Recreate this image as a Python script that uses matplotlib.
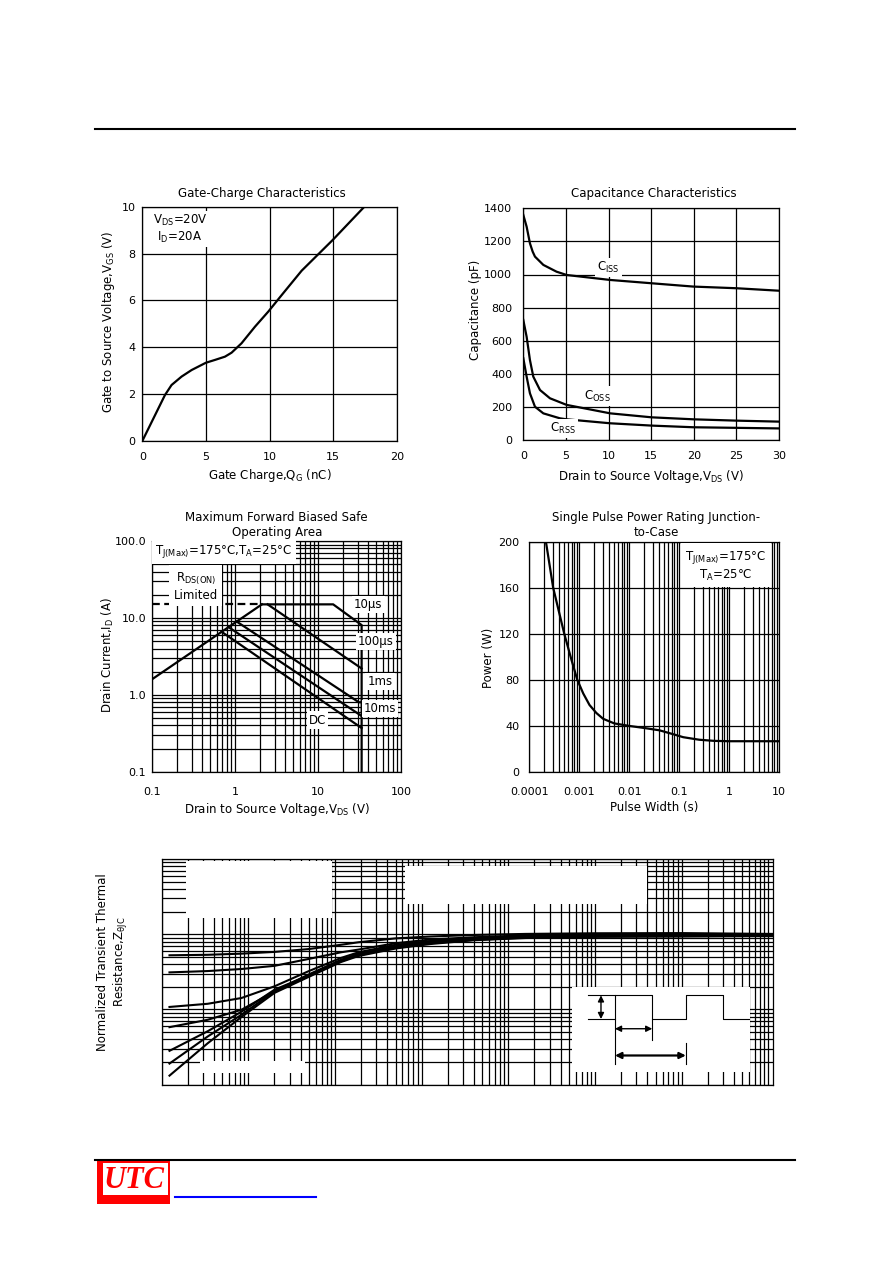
import numpy as np
import matplotlib
matplotlib.use('Agg')
import matplotlib.pyplot as plt
from matplotlib.patches import Rectangle
from matplotlib.lines import Line2D
from matplotlib.ticker import LogLocator, NullFormatter

plt.rcParams['font.family'] = ['DejaVu Sans']
plt.rcParams['mathtext.fontset'] = 'dejavusans'
plt.rcParams['mathtext.default'] = 'regular'

W, H = 892, 1263

# ---------------- data ----------------
# Gate charge
qg = [0, 1.78, 2.3, 3.09, 3.88, 5.0, 5.71, 6.5, 7.02, 7.8, 8.86, 9.9, 10.96, 12.53, 14.97, 17.46]
vgs = [0, 1.96, 2.39, 2.75, 3.03, 3.34, 3.46, 3.6, 3.77, 4.17, 4.88, 5.52, 6.23, 7.27, 8.58, 10.0]

# Capacitance
vds_ciss = [0, 0.39, 0.78, 1.1, 1.37, 2.35, 3.9, 5.09, 10.2, 15.06, 19.95, 25.0, 30]
ciss = [1360, 1289, 1188, 1138, 1108, 1058, 1017, 997, 967, 947, 927, 917, 902]
vds_coss = [0, 0.39, 0.78, 1.17, 1.96, 3.13, 5.09, 10.2, 15.06, 19.95, 25.0, 30]
coss = [725, 624, 483, 383, 302, 252, 212, 161, 137, 125, 117, 111]
vds_crss = [0, 0.39, 0.78, 1.37, 2.35, 4.3, 5.09, 10.2, 15.06, 19.95, 30]
crss = [494, 383, 282, 201, 161, 131, 125, 101, 87, 77, 70]

# Safe operating area
rds_v = [0.1, 2.1]
rds_i = [1.6, 15.0]
lim_v = [0.1, 2.1]
lim_i = [15.0, 15.0]
us10_v = [2.1, 15.2, 33.5, 33.5]
us10_i = [15.0, 15.0, 8.07, 0.1]
us100_v = [2.46, 33.5]
us100_i = [15.0, 2.2]
ms1_v = [1.04, 31.0, 33.5]
ms1_i = [8.97, 0.8, 0.8]
ms10_v = [0.83, 33.5]
ms10_i = [7.6, 0.53]
dc_v = [0.685, 33.5]
dc_i = [6.6, 0.37]

# Single pulse power
pw_t = [2.15e-4, 3.0e-4, 5.0e-4, 7.0e-4, 9.1e-4, 1.2e-3, 1.6e-3, 2.2e-3, 3.0e-3, 5.0e-3,
        1.0e-2, 2.0e-2, 4.0e-2, 7.0e-2, 0.12, 0.25, 0.5, 1.0, 10.0]
pw_p = [200, 160, 120, 97, 80, 68, 58, 51, 46, 42, 39.8, 38, 36, 33, 30, 27.8, 26.8, 26.5, 26.5]

# Transient thermal impedance (normalized)
zt = [1.23e-5, 3.39e-5, 8.32e-5, 2.0e-4, 4.9e-4, 1.17e-3, 1.86e-3, 5.0e-3, 1.26e-2, 3.98e-2,
      0.158, 1.0, 10.0, 112.0]
z_d50 = [0.525, 0.533, 0.552, 0.582, 0.634, 0.724, 0.782, 0.881, 0.933, 0.977, 1.01, 1.03, 1.035, 1.01]
z_d20 = [0.311, 0.324, 0.345, 0.380, 0.468, 0.575, 0.625, 0.759, 0.851, 0.912, 0.966, 1.0, 1.01, 1.0]
z_d10 = [0.108, 0.119, 0.142, 0.203, 0.321, 0.484, 0.575, 0.724, 0.813, 0.891, 0.933, 0.966, 0.977, 0.985]
z_d05 = [0.0582, 0.0729, 0.0991, 0.174, 0.290, 0.457, 0.55, 0.692, 0.794, 0.871, 0.923, 0.955, 0.966, 0.977]
z_d02 = [0.0282, 0.0513, 0.0933, 0.183, 0.282, 0.447, 0.537, 0.676, 0.776, 0.851, 0.912, 0.944, 0.955, 0.966]
z_d01 = [0.0191, 0.0437, 0.0851, 0.174, 0.275, 0.437, 0.525, 0.661, 0.759, 0.841, 0.902, 0.933, 0.944, 0.955]
z_single = [0.0132, 0.0355, 0.0794, 0.166, 0.269, 0.427, 0.513, 0.646, 0.741, 0.832, 0.891, 0.923, 0.933, 0.944]

# Pulse diagram (schematic units: t1 = 1)
pulse_t = [-0.72, 0, 0, 1, 1, 1.9, 1.9, 2.9, 2.9, 3.62]
pulse_v = [0, 0, 1, 1, 0, 0, 1, 1, 0, 0]

# ---------------- figure ----------------
fig = plt.figure(figsize=(W / 100, H / 100), dpi=100)
fig.patch.set_facecolor('white')

FS = 8.5
TFS = 8.0


def px_axes(l, t, r, b, **kw):
    return fig.add_axes([l / W, 1 - b / H, (r - l) / W, (b - t) / H], **kw)


def ftext(x, y, s, **kw):
    kw.setdefault('ha', 'center')
    kw.setdefault('va', 'center')
    kw.setdefault('fontsize', FS)
    return fig.text(x / W, 1 - y / H, s, **kw)


def style(ax, xpad, ypad):
    for s in ax.spines.values():
        s.set_linewidth(0.9)
        s.set_color('black')
    ax.tick_params(which='both', length=0, labelsize=TFS, colors='black')
    ax.tick_params(axis='x', pad=xpad)
    ax.tick_params(axis='y', pad=ypad)
    ax.set_axisbelow(True)


BOX = dict(fc='white', ec='none', pad=1.5)
LW = 1.6
GRID = dict(color='black', lw=0.9)

# header line
fig.add_artist(Line2D([95 / W, 795 / W], [1 - 128.5 / H] * 2, color='black', lw=1.5))

# ---- Chart 1: Gate charge ----
ax1 = px_axes(142.3, 206.7, 396.7, 441)
style(ax1, 8.0, 5.0)
ax1.plot(qg, vgs, color='black', lw=LW, solid_joinstyle='round')
ax1.set_xlim(0, 20)
ax1.set_ylim(0, 10)
ax1.set_xticks([0, 5, 10, 15, 20])
ax1.set_yticks([0, 2, 4, 6, 8, 10])
ax1.grid(True, **GRID)
ax1.text(2.96, 9.05, 'V$_{DS}$=20V\nI$_{D}$=20A', ha='center', va='center', fontsize=FS,
         linespacing=1.15, bbox=BOX)
ftext(262, 194, 'Gate-Charge Characteristics')
ftext(269.5, 475, 'Gate Charge,Q$_{G}$ (nC)')
ftext(108.3, 322, 'Gate to Source Voltage,V$_{GS}$ (V)', rotation=90)

# ---- Chart 2: Capacitance ----
ax2 = px_axes(523.3, 208.3, 779, 440)
style(ax2, 8.0, 8.0)
ax2.plot(vds_ciss, ciss, color='black', lw=LW, solid_joinstyle='round')
ax2.plot(vds_coss, coss, color='black', lw=LW, solid_joinstyle='round')
ax2.plot(vds_crss, crss, color='black', lw=LW, solid_joinstyle='round')
ax2.set_xlim(0, 30)
ax2.set_ylim(0, 1400)
ax2.set_xticks([0, 5, 10, 15, 20, 25, 30])
ax2.set_yticks(range(0, 1401, 200))
ax2.grid(True, **GRID)
ax2.text(9.97, 1043, 'C$_{ISS}$', ha='center', va='center', fontsize=FS, bbox=BOX)
ax2.text(8.72, 266, 'C$_{OSS}$', ha='center', va='center', fontsize=FS, bbox=BOX)
ax2.text(4.62, 70.5, 'C$_{RSS}$', ha='center', va='center', fontsize=FS, bbox=BOX)
ftext(654, 194, 'Capacitance Characteristics')
ftext(651, 476.5, 'Drain to Source Voltage,V$_{DS}$ (V)')
ftext(475, 310, 'Capacitance (pF)', rotation=90)

# ---- Chart 3: SOA ----
ax3 = px_axes(152.3, 541, 401, 771.7)
style(ax3, 11, 4.5)
ax3.set_xscale('log')
ax3.set_yscale('log')
ax3.set_xlim(0.1, 100)
ax3.set_ylim(0.1, 100)
ax3.set_xticks([0.1, 1, 10, 100], ['0.1', '1', '10', '100'])
ax3.set_yticks([0.1, 1, 10, 100], ['0.1', '1.0', '10.0', '100.0'])
for axis in (ax3.xaxis, ax3.yaxis):
    axis.set_minor_locator(LogLocator(base=10, subs=np.arange(2, 10), numticks=50))
    axis.set_minor_formatter(NullFormatter())
ax3.grid(True, which='both', **GRID)
ax3.plot(rds_v, rds_i, color='black', lw=LW)
ax3.plot(lim_v, lim_i, color='black', lw=LW, ls=(0, (3.5, 2)))
ax3.plot(us10_v, us10_i, color='black', lw=LW)
ax3.plot(us100_v, us100_i, color='black', lw=LW)
ax3.plot(ms1_v, ms1_i, color='black', lw=LW)
ax3.plot(ms10_v, ms10_i, color='black', lw=LW)
ax3.plot(dc_v, dc_i, color='black', lw=LW)
ax3.text(0.108, 72.6, 'T$_{J(Max)}$=175°C,T$_{A}$=25°C', ha='left', va='center', fontsize=FS,
         bbox=dict(fc='white', ec='none', pad=2.5))
ax3.text(0.334, 25.5, 'R$_{DS(ON)}$\nLimited', ha='center', va='center', fontsize=FS,
         linespacing=1.2, bbox=dict(fc='white', ec='none', pad=3))
ax3.text(40.4, 15.0, '10µs', ha='center', va='center', fontsize=FS, bbox=BOX)
ax3.text(49.4, 4.9, '100µs', ha='center', va='center', fontsize=FS, bbox=BOX)
ax3.text(55.7, 1.48, '1ms', ha='center', va='center', fontsize=FS, bbox=BOX)
ax3.text(55.7, 0.667, '10ms', ha='center', va='center', fontsize=FS, bbox=BOX)
ax3.text(9.86, 0.47, 'DC', ha='center', va='center', fontsize=FS, bbox=BOX)
ftext(276.7, 525, 'Maximum Forward Biased Safe\nOperating Area', linespacing=1.2)
ftext(276.7, 809, 'Drain to Source Voltage,V$_{DS}$ (V)')
ftext(107.7, 655, 'Drain Current,I$_{D}$ (A)', rotation=90)

# ---- Chart 4: Single pulse power ----
ax4 = px_axes(529.3, 541.7, 779.3, 771.7)
style(ax4, 11, 7.0)
ax4.set_xscale('log')
ax4.set_xlim(1e-4, 10)
ax4.set_ylim(0, 200)
ax4.set_xticks([1e-4, 1e-3, 1e-2, 0.1, 1, 10], ['0.0001', '0.001', '0.01', '0.1', '1', '10'])
ax4.xaxis.set_minor_locator(LogLocator(base=10, subs=np.arange(2, 10), numticks=50))
ax4.xaxis.set_minor_formatter(NullFormatter())
ax4.set_yticks(range(0, 201, 40))
ax4.grid(True, which='both', axis='x', **GRID)
ax4.grid(True, which='major', axis='y', **GRID)
ax4.plot(pw_t, pw_p, color='black', lw=LW, solid_joinstyle='round')
ax4.text(0.857, 179, 'T$_{J(Max)}$=175°C\nT$_{A}$=25°C', ha='center', va='center', fontsize=FS,
         linespacing=1.2, bbox=dict(fc='white', ec='none', pad=3))
ftext(656, 525, 'Single Pulse Power Rating Junction-\nto-Case', linespacing=1.2)
ftext(654, 808, 'Pulse Width (s)')
ftext(488.3, 658, 'Power (W)', rotation=90)

# ---- Chart 5: Transient thermal impedance ----
ax5 = px_axes(161.7, 859, 773, 1084.7)
style(ax5, 4, 4)
ax5.set_xscale('log')
ax5.set_yscale('log')
ax5.set_xlim(1e-5, 10 ** 2.053)
ax5.set_ylim(0.01, 10)
for axis in (ax5.xaxis, ax5.yaxis):
    axis.set_major_locator(LogLocator(base=10, numticks=30))
    axis.set_minor_locator(LogLocator(base=10, subs=np.arange(2, 10), numticks=200))
    axis.set_minor_formatter(NullFormatter())
ax5.tick_params(labelbottom=False, labelleft=False)
ax5.grid(True, which='both', **GRID)
for (fx0, fy0, fx1, fy1) in [(0.0397, 0.7386, 0.2786, 0.9911),
                             (0.3980, 0.8006, 0.7934, 0.9703),
                             (0.0622, 0.0532, 0.2339, 0.1063)]:
    ax5.add_patch(Rectangle((fx0, fy0), fx1 - fx0, fy1 - fy0, transform=ax5.transAxes,
                            fc='white', ec='none', zorder=1))
for z in (z_d50, z_d20, z_d10, z_d05, z_d02, z_d01, z_single):
    ax5.plot(zt, z, color='black', lw=1.5, solid_joinstyle='round', zorder=2)
ftext(113.4, 961.7, 'Normalized Transient Thermal\nResistance,Z$_{\\theta JC}$', rotation=90, linespacing=1.25)

# pulse diagram inset
axp = px_axes(571.7, 987.3, 750, 1072.3, zorder=3)
axp.set_facecolor('white')
axp.set_xticks([])
axp.set_yticks([])
for s in axp.spines.values():
    s.set_visible(False)
axp.set_xlim(-1.16, 3.62)
axp.set_ylim(-2.25, 1.34)
axp.plot(pulse_t, pulse_v, color='black', lw=0.8)
axp.plot([-0.72, 0], [1, 1], color='black', lw=0.8)
axp.plot([0, 0], [0, -1.89], color='black', lw=0.8)
axp.plot([1, 1], [0, -0.87], color='black', lw=0.8)
axp.plot([1.9, 1.9], [-1.01, -1.89], color='black', lw=0.8)
arr = dict(arrowstyle='<|-|>', color='black', lw=1.0, mutation_scale=9, shrinkA=0, shrinkB=0)
axp.annotate('', xy=(-0.375, 1), xytext=(-0.375, 0), arrowprops=arr)
axp.annotate('', xy=(1, -0.41), xytext=(0, -0.41), arrowprops=arr)
arr2 = dict(arr, lw=1.6)
axp.annotate('', xy=(1.9, -1.54), xytext=(0, -1.54), arrowprops=arr2)

# footer
fig.add_artist(Line2D([95 / W, 795 / W], [1 - 1160.3 / H] * 2, color='black', lw=1.5))
fig.add_artist(Rectangle((96.7 / W, 1 - 1204.3 / H), (170 - 96.7) / W, (1204.3 - 1161.3) / H,
                         transform=fig.transFigure, fc='#ff0000', ec='none'))
fig.add_artist(Rectangle((102.7 / W, 1 - 1195 / H), (168.3 - 102.7) / W, (1195 - 1162.5) / H,
                         transform=fig.transFigure, fc='white', ec='none'))
ftext(134.5, 1180.5, 'UTC', color='#ff0000', fontsize=22, family=['Liberation Serif', 'DejaVu Serif'],
      style='italic', weight='bold')
fig.add_artist(Line2D([175 / W, 316 / W], [1 - 1197 / H] * 2, color='#0000ff', lw=1.5))

fig.savefig('out.png', dpi=100, facecolor='white')
